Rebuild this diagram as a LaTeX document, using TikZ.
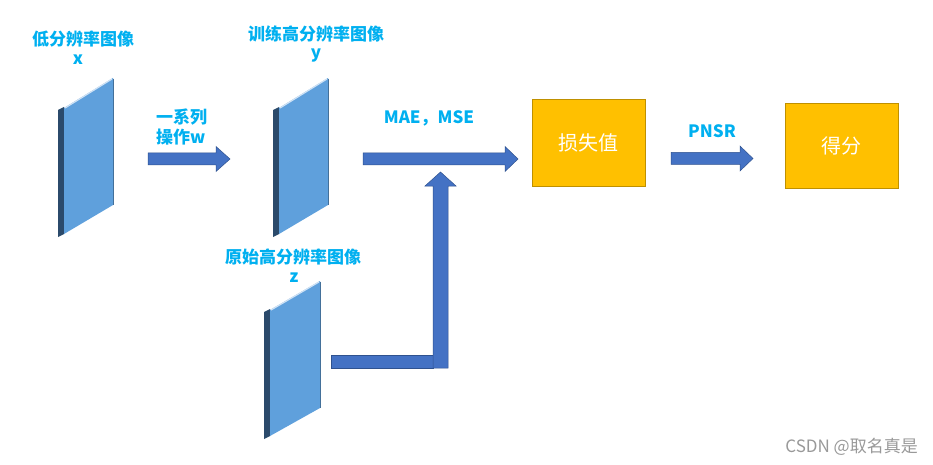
\documentclass[tikz,border=0pt]{standalone}
\usepackage{fontspec}
\setmainfont{Noto Sans CJK SC}
\newfontfamily\wmfont{Noto Sans CJK SC}
\definecolor{lbl}{HTML}{00B0F0}
\definecolor{arr}{HTML}{4472C4}
\definecolor{arrb}{HTML}{2F528F}
\definecolor{gold}{HTML}{FFC000}
\definecolor{goldb}{HTML}{BF9000}
\definecolor{panelf}{HTML}{5FA0DC}
\definecolor{panels}{HTML}{2B4A6B}
\tikzset{
  lbltxt/.style={text=lbl, font=\bfseries\fontsize{17}{20}\selectfont, inner sep=0pt, align=center},
  boxnode/.style={fill=gold, draw=goldb, line width=0.6pt, text=white, font=\fontsize{20}{22}\selectfont},
  arrowfill/.style={fill=arr, draw=arrb, line width=0.5pt},
}
\newcommand\mypanel[4]{% x-left, y-top-left, x-right, y-top-right
  \fill[panels] (#1-6,#2+2) -- (#1,#2-1) -- (#1,#2+126) -- (#1-6,#2+129) -- cycle;
  \fill[panelf] (#1,#2) -- (#3,#4) -- (#3,#4+127) -- (#1,#2+126) -- cycle;
  \draw[white!70!panelf, line width=1.2pt] (#1+1,#2) -- (#3-1,#4+1);
  \draw[panelf!70!black, line width=0.6pt] (#3,#4+1) -- (#3,#4+127);
}
\newcommand\myarrow[4]{% x1, xtip, yc, headstart
  \filldraw[arrowfill] (#1,#3-6) -- (#4,#3-6) -- (#4,#3-12.5) -- (#2,#3) -- (#4,#3+12.5) -- (#4,#3+6) -- (#1,#3+6) -- cycle;
}
\begin{document}
\begin{tikzpicture}[x=1pt,y=-1pt]
\useasboundingbox (0,0) rectangle (933,465);
\fill[white] (0,0) rectangle (933,465);
% panels
\mypanel{64}{108}{113}{78}
\mypanel{279}{108}{328}{78}
\mypanel{270}{310}{320}{281}
% labels
\node[lbltxt] (lx) at (83,39) {低分辨率图像};
\node[lbltxt] (lxs) at (78,60) {x};
\node[lbltxt] (ly) at (316,34) {训练高分辨率图像};
\node[lbltxt] (lys) at (316,56) {y};
\node[lbltxt] (lz) at (293,257) {原始高分辨率图像};
\node[lbltxt] (lzs) at (294,278) {z};
\node[lbltxt, anchor=west, align=left] (lw) at (156,127) {一系列\\操作w};
\node[lbltxt] (lm) at (429,118) {MAE，MSE};
\node[lbltxt] (lp) at (712,131) {PNSR};
% boxes
\node[boxnode, minimum width=113pt, minimum height=87pt] (b1) at (588.5,142.5) {损失值};
\node[boxnode, minimum width=113pt, minimum height=85pt] (b2) at (841.5,145.5) {得分};
% arrows
\myarrow{148}{230}{159}{216}
\myarrow{363}{518}{159}{505}
\myarrow{671}{753}{158.5}{740}
% vertical arrow and bar
\filldraw[arrowfill] (331,355) rectangle (433,368);
\filldraw[arrowfill] (433,368) -- (433,186) -- (425,186) -- (440.5,172) -- (456,186) -- (448,186) -- (448,368) -- cycle;
% watermark
\node[text=black!40, font=\wmfont\fontsize{17}{19}\selectfont, anchor=east, inner sep=0pt] (wm) at (918,447) {CSDN @取名真是};
\end{tikzpicture}
\end{document}
